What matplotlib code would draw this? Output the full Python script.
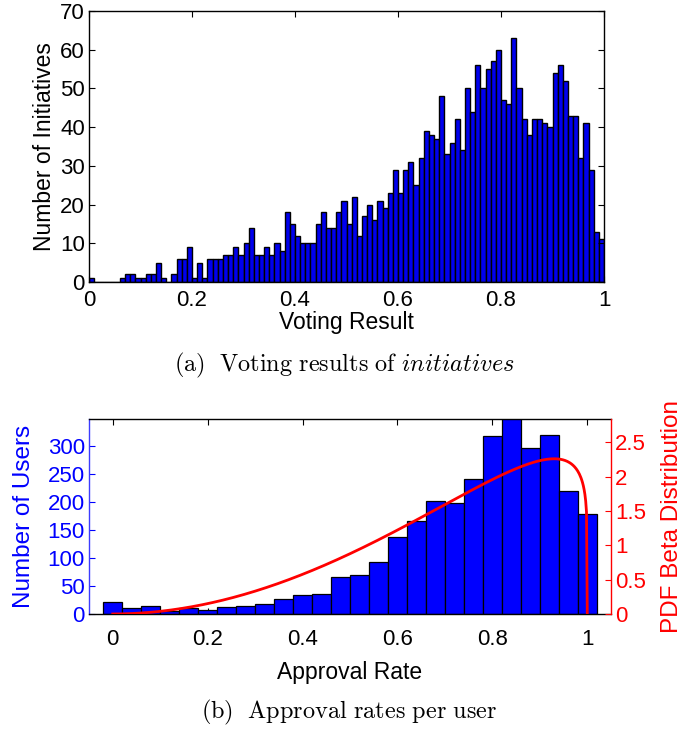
import math
import numpy as np
import matplotlib
matplotlib.use("Agg")
import matplotlib.pyplot as plt

plt.rcParams['font.family'] = ['Liberation Sans', 'DejaVu Sans']
plt.rcParams['mathtext.fontset'] = 'cm'

# (a) voting results: counts per 0.01-wide bin on [0, 1]
vote_bin_width = 0.01
vote_counts = [
    1, 0, 0, 0, 0, 0, 1, 2, 2, 1,
    1, 2, 2, 5, 1, 0, 2, 6, 6, 9,
    1, 5, 1, 6, 6, 6, 7, 7, 9, 7,
    10, 14, 7, 7, 9, 7, 10, 8, 18, 15,
    12, 10, 10, 10, 15, 18, 14, 14, 18, 21,
    15, 22, 12, 17, 20, 16, 21, 19, 23, 29,
    23, 29, 31, 25, 32, 39, 38, 37, 48, 33,
    36, 42, 34, 50, 44, 56, 50, 55, 57, 60,
    47, 46, 63, 50, 42, 38, 42, 42, 41, 40,
    54, 56, 52, 43, 43, 32, 41, 29, 13, 11,
]
vote_ticks = [0, 0.2, 0.4, 0.6, 0.8, 1]
vote_yticks = [0, 10, 20, 30, 40, 50, 60, 70]

# (b) approval rate per user: bin centres 0:0.04:1
approval_centers = [round(0.04 * i, 2) for i in range(26)]
approval_counts = [
    21, 10, 14, 5, 11, 7, 12, 15, 18, 27,
    34, 35, 66, 69, 93, 138, 166, 201, 198, 241,
    317, 352, 296, 320, 220, 179,
]
approval_ticks = [0, 0.2, 0.4, 0.6, 0.8, 1]
users_yticks = [0, 50, 100, 150, 200, 250, 300]
pdf_yticks = [0, 0.5, 1, 1.5, 2, 2.5]

# fitted Beta distribution parameters
beta_a = 3.0
beta_b = 1.15

TICK_FS = 16
LABEL_FS = 16.5
CAPTION_FS = 17.5

fig = plt.figure(figsize=(6.82, 7.29), dpi=100)

# ---------- (a) ----------
ax1 = fig.add_axes([0.1305, 0.6132, 0.7552, 0.3717])
left_edges = np.arange(len(vote_counts)) * vote_bin_width
ax1.bar(left_edges, vote_counts, width=vote_bin_width, align='edge',
        color='#0000ee', edgecolor='black', linewidth=1.0)
ax1.set_xlim(0, 1)
ax1.set_ylim(0, 70)
ax1.set_xticks(vote_ticks)
ax1.set_xticklabels(['0', '0.2', '0.4', '0.6', '0.8', '1'])
ax1.set_yticks(vote_yticks)
ax1.tick_params(axis='x', direction='in', length=4, width=0.8, labelsize=TICK_FS,
                top=True, pad=6)
ax1.tick_params(axis='y', direction='in', length=4, width=0.8, labelsize=TICK_FS,
                right=True, pad=3)
for s in ax1.spines.values():
    s.set_linewidth(1.0)
ax1.set_xlabel('Voting Result', fontsize=LABEL_FS, labelpad=0)
ax1.set_ylabel('Number of Initiatives', fontsize=LABEL_FS, labelpad=3)

fig.text(0.505, 0.499, r'$\mathrm{(a)\ \ Voting\ results\ of\ }\mathit{initiatives}$',
         ha='center', va='center', fontsize=CAPTION_FS)

# ---------- (b) ----------
ax2 = fig.add_axes([0.1305, 0.1578, 0.7654, 0.2675])
ax2.bar(approval_centers, approval_counts, width=0.04, align='center',
        color='#0000ff', edgecolor='black', linewidth=0.9, zorder=2)
ax2.set_xlim(-0.05, 1.05)
ax2.set_ylim(0, 348)
ax2.set_xticks(approval_ticks)
ax2.set_xticklabels(['0', '0.2', '0.4', '0.6', '0.8', '1'])
ax2.set_yticks(users_yticks)
ax2.tick_params(axis='x', direction='in', length=4, width=0.8, labelsize=TICK_FS,
                top=True, pad=11)
ax2.tick_params(axis='y', direction='in', length=4, width=0.8, labelsize=TICK_FS,
                colors='blue', pad=3)
ax2.spines['left'].set_color('#3c3cff')
ax2.spines['right'].set_visible(False)
for s in ax2.spines.values():
    s.set_linewidth(1.0)
ax2.set_xlabel('Approval Rate', fontsize=LABEL_FS, labelpad=8)
ax2.set_ylabel('Number of Users', fontsize=LABEL_FS + 1, color='blue', labelpad=9)

ax3 = ax2.twinx()
xs = np.linspace(0, 1, 600)
norm = math.gamma(beta_a) * math.gamma(beta_b) / math.gamma(beta_a + beta_b)
pdf = xs ** (beta_a - 1) * (1 - xs) ** (beta_b - 1) / norm
ax3.plot(xs, pdf, color='red', linewidth=2.0, zorder=3)
ax3.set_ylim(0, 2.84)
ax3.set_xlim(-0.05, 1.05)
ax3.set_yticks(pdf_yticks)
ax3.set_yticklabels(['0', '0.5', '1', '1.5', '2', '2.5'])
ax3.tick_params(axis='y', direction='in', length=4, width=0.8, labelsize=TICK_FS,
                colors='red', pad=3)
ax3.spines['right'].set_color('red')
ax3.spines['right'].set_linewidth(1.0)
ax3.spines['left'].set_visible(False)
ax3.spines['top'].set_visible(False)
ax3.spines['bottom'].set_visible(False)
ax3.set_ylabel('PDF Beta Distribution', fontsize=LABEL_FS + 1, color='red', labelpad=11)

fig.text(0.512, 0.023, r'$\mathrm{(b)\ \ Approval\ rates\ per\ user}$',
         ha='center', va='center', fontsize=CAPTION_FS)

fig.savefig('out.png', dpi=100)
